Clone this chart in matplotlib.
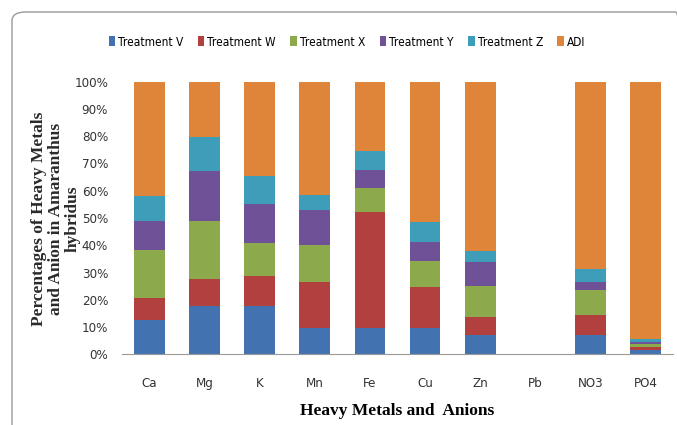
import numpy as np
import matplotlib.pyplot as plt
from matplotlib.patches import FancyBboxPatch
from matplotlib.ticker import PercentFormatter
from matplotlib import font_manager

# data
categories = ['Ca', 'Mg', 'K', 'Mn', 'Fe', 'Cu', 'Zn', 'Pb', 'NO3', 'PO4']
treat_v = [12.5, 17.8, 17.8, 9.8, 9.8, 9.8, 7.1, 0, 7.1, 1.6]
treat_w = [8.0, 9.8, 10.9, 16.8, 42.5, 15.0, 6.7, 0, 7.3, 1.2]
treat_x = [17.8, 21.4, 12.0, 13.5, 8.6, 9.5, 11.4, 0, 9.2, 0.9]
treat_y = [10.5, 18.2, 14.3, 12.8, 6.7, 7.0, 8.8, 0, 3.0, 0.7]
treat_z = [9.4, 12.6, 10.5, 5.5, 7.0, 7.3, 4.0, 0, 4.7, 1.1]
adi = [41.8, 20.2, 34.5, 41.6, 25.4, 51.4, 62.0, 0, 68.7, 94.5]
series_names = ['Treatment V', 'Treatment W', 'Treatment X', 'Treatment Y', 'Treatment Z', 'ADI']
colors = ['#4272B0', '#B2403F', '#8CAA4B', '#6E5196', '#3E9DB8', '#DE853A']

serif = ['Liberation Serif', 'DejaVu Serif']
narrow = font_manager.FontProperties(family='DejaVu Sans', stretch='condensed', size=8.6)

fig = plt.figure(figsize=(6.77, 4.25), dpi=100)
ax = fig.add_axes([122/677, 1 - 354.3/425, 551/677, 272.6/425])

# rounded frame around the chart
frame = FancyBboxPatch((12/677, -0.2), 1.0, 1.0 - 12/425 + 0.2,
                       boxstyle='round,pad=0,rounding_size=0.02',
                       transform=fig.transFigure, fill=False,
                       edgecolor='#9a9a9a', linewidth=1.0, clip_on=False)
fig.patches.append(frame)

x = np.arange(len(categories))
bottom = np.zeros(len(categories))
handles = []
for name, vals, c in zip(series_names, [treat_v, treat_w, treat_x, treat_y, treat_z, adi], colors):
    vals = np.array(vals)
    h = ax.bar(x, vals, 0.56, bottom=bottom, color=c, label=name)
    handles.append(h)
    bottom += vals

ax.set_xlim(-0.5, len(categories) - 0.5)
ax.set_ylim(0, 100)
ax.set_yticks(np.arange(0, 101, 10))
ax.yaxis.set_major_formatter(PercentFormatter(decimals=0))
for s in ['top', 'right', 'left']:
    ax.spines[s].set_visible(False)
ax.spines['bottom'].set_color('#999999')
ax.tick_params(axis='y', length=0, pad=10, labelcolor='#333333')
ax.tick_params(axis='x', length=0, pad=16, labelcolor='#333333')
ax.set_xticks(x)
ax.set_xticklabels(categories)
for lab in ax.get_xticklabels() + ax.get_yticklabels():
    lab.set_fontproperties(font_manager.FontProperties(family='DejaVu Sans', stretch='condensed', size=9.5))

ax.set_xlabel('Heavy Metals and  Anions', family=serif, fontweight='bold',
              fontsize=12.5, labelpad=10)
fig.text(56/677, 1 - 219/425, 'Percentages of Heavy Metals\nand Anion in Amaranthus\nhybridus',
         rotation=90, ha='center', va='center', family=serif, fontweight='bold',
         fontsize=12.5, linespacing=1.05, color='#2a2a2a')

fig.legend(handles=handles, labels=series_names, loc='center', ncol=6,
           bbox_to_anchor=(347/677, 1 - 42/425), frameon=False,
           prop=narrow, handlelength=0.55, handleheight=0.9,
           handletextpad=0.25, columnspacing=1.2)

fig.savefig('out.png', dpi=100)
